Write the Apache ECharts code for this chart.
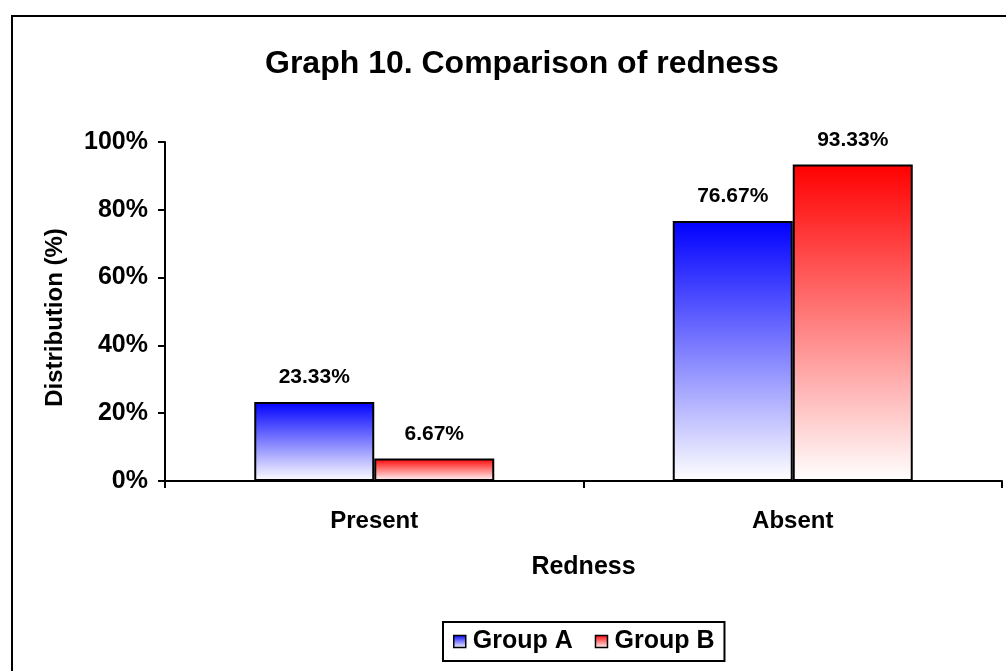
<!DOCTYPE html>
<html>
<head>
<meta charset="utf-8">
<script src="https://cdn.jsdelivr.net/npm/echarts@6/dist/echarts.min.js"></script>
<style>html,body{margin:0;padding:0;background:#fff;}#c{width:1006px;height:671px;}</style>
</head>
<body>
<div id="c"></div>
<script>
const categories = ['Present', 'Absent'];
const groupA = [23.33, 76.67];
const groupB = [6.67, 93.33];
const seriesNames = ['Group A', 'Group B'];
const yTicks = [0, 20, 40, 60, 80, 100];

const FONT = '"Liberation Sans", Arial, sans-serif';
function grad(c) {
  return new echarts.graphic.LinearGradient(0, 0, 0, 1, [
    { offset: 0, color: c },
    { offset: 1, color: '#ffffff' }
  ]);
}
const chart = echarts.init(document.getElementById('c'), null, { renderer: 'canvas' });
const labelStyle = {
  show: true, position: 'top', distance: 14,
  formatter: p => p.value.toFixed(2) + '%',
  fontFamily: FONT, fontWeight: 'bold', fontSize: 21, color: '#000'
};
chart.setOption({
  backgroundColor: '#fff',
  animation: false,
  graphic: [{
    type: 'rect', left: 11, top: 15, z: -1,
    shape: { width: 1010, height: 700 },
    style: { fill: '#fff', stroke: '#000', lineWidth: 2 }
  }],
  title: {
    text: 'Graph 10. Comparison of redness',
    left: 260, top: 43,
    textStyle: { fontFamily: FONT, fontWeight: 'bold', fontSize: 32, color: '#000' }
  },
  grid: { left: 165, right: 4, top: 142, bottom: 190, containLabel: false },
  legend: {
    data: seriesNames,
    left: 443, top: 622,
    orient: 'horizontal',
    itemWidth: 12, itemHeight: 12, itemGap: 22,
    icon: 'rect',
    padding: [7, 10, 7, 10],
    borderColor: '#000', borderWidth: 2,
    itemStyle: { borderColor: '#000', borderWidth: 1.5 },
    textStyle: { fontFamily: FONT, fontWeight: 'bold', fontSize: 25, color: '#000', padding: [0, 0, 0, 2] }
  },
  xAxis: {
    type: 'category',
    data: categories,
    name: 'Redness',
    nameLocation: 'middle',
    nameGap: 74,
    nameTextStyle: { fontFamily: FONT, fontWeight: 'bold', fontSize: 25, color: '#000' },
    axisLine: { lineStyle: { color: '#000', width: 2 } },
    axisTick: { show: true, length: 7, lineStyle: { color: '#000', width: 2 } },
    axisLabel: { margin: 28, fontFamily: FONT, fontWeight: 'bold', fontSize: 24, color: '#000' }
  },
  yAxis: {
    type: 'value',
    min: 0, max: 100, interval: 20,
    name: 'Distribution (%)',
    nameLocation: 'middle',
    nameGap: 98,
    nameRotate: 90,
    nameTextStyle: { fontFamily: FONT, fontWeight: 'bold', fontSize: 24, color: '#000', padding: [0, 12, 0, 0] },
    axisLine: { show: true, lineStyle: { color: '#000', width: 2 } },
    axisTick: { show: true, length: 7, lineStyle: { color: '#000', width: 2 } },
    splitLine: { show: false },
    axisLabel: {
      margin: 17, fontFamily: FONT, fontWeight: 'bold', fontSize: 25, color: '#000',
      formatter: v => yTicks.includes(v) ? v + '%' : ''
    }
  },
  series: [
    {
      name: seriesNames[0], type: 'bar', data: groupA,
      barWidth: 120, barGap: '0%',
      itemStyle: { color: grad('#0000ff'), borderColor: '#000', borderWidth: 2 },
      label: labelStyle
    },
    {
      name: seriesNames[1], type: 'bar', data: groupB,
      barWidth: 120, barGap: '0%',
      itemStyle: { color: grad('#ff0000'), borderColor: '#000', borderWidth: 2 },
      label: labelStyle
    }
  ]
});
</script>
</body>
</html>
